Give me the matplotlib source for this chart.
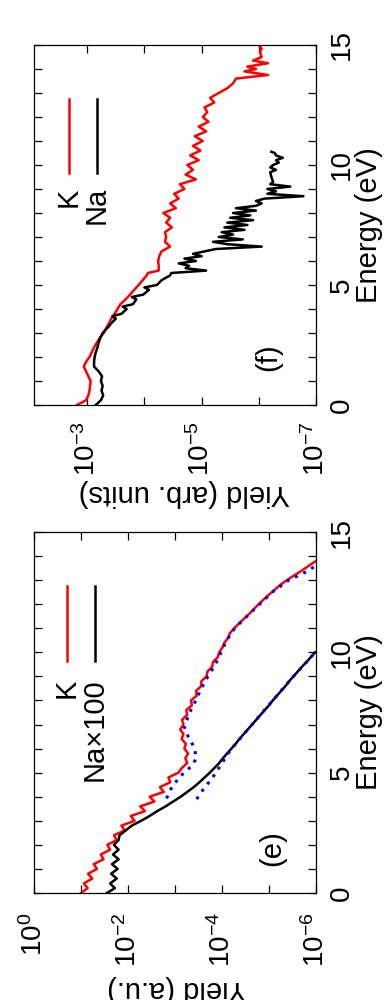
import numpy as np
import matplotlib
matplotlib.use('Agg')
import matplotlib.pyplot as plt
from matplotlib.ticker import FixedLocator, MultipleLocator, NullLocator

plt.rcParams['font.family'] = ['Liberation Sans', 'DejaVu Sans']
plt.rcParams['mathtext.fontset'] = 'custom'
plt.rcParams['mathtext.rm'] = 'Liberation Sans'
plt.rcParams['mathtext.it'] = 'Liberation Sans:italic'
plt.rcParams['mathtext.default'] = 'regular'

# ---------------- data: panel (f) ----------------
f_K_energy = [0.0, 0.2, 0.4, 0.6, 0.8, 1.0, 1.2, 1.4, 1.6, 1.8, 2.0, 2.2, 2.4, 2.6, 2.8,
              3.0, 3.2, 3.4, 3.6, 3.8, 4.0, 4.2, 4.4, 4.6, 4.8, 5.0, 5.2, 5.4, 5.5, 5.6,
              5.8, 6.0, 6.2, 6.4, 6.6, 6.8, 7.0, 7.2, 7.4, 7.6, 7.8, 8.0, 8.2, 8.4, 8.6,
              8.8, 9.0, 9.2, 9.4, 9.6, 9.8, 10.0, 10.2, 10.4, 10.6, 10.8, 11.0, 11.2, 11.4,
              11.6, 11.8, 12.0, 12.2, 12.4, 12.6, 12.8, 13.0, 13.2, 13.4, 13.6, 13.75, 13.9,
              14.0, 14.1, 14.24, 14.35, 14.5, 14.7, 14.85, 15.0]
f_K_log10 = [-2.82, -2.98, -3.02, -3.04, -3.05, -3.06, -3.02, -2.98, -2.94, -2.98, -3.04,
             -3.08, -3.12, -3.17, -3.22, -3.29, -3.33, -3.38, -3.42, -3.48, -3.53, -3.58,
             -3.67, -3.75, -3.82, -3.90, -3.97, -4.04, -4.06, -4.25, -4.25, -4.24, -4.26,
             -4.30, -4.45, -4.36, -4.38, -4.36, -4.48, -4.38, -4.45, -4.33, -4.55, -4.45,
             -4.60, -4.52, -4.70, -4.62, -4.90, -4.72, -4.85, -4.75, -4.95, -4.80, -4.98,
             -4.85, -5.02, -4.88, -5.08, -4.95, -5.12, -5.02, -5.10, -5.05, -5.22, -5.15,
             -5.30, -5.45, -5.55, -5.60, -6.16, -5.75, -5.95, -5.80, -6.16, -5.90, -6.05,
             -6.02, -6.05, -6.00]

f_Na_energy = [0.0, 0.2, 0.4, 0.6, 0.8, 1.0, 1.2, 1.4, 1.6, 1.8, 2.0, 2.2, 2.4, 2.6, 2.8,
               3.0, 3.2, 3.4, 3.6, 3.7, 3.8, 4.0, 4.1, 4.2, 4.4, 4.5, 4.6, 4.8, 4.9, 5.0,
               5.2, 5.4, 5.5, 5.6, 5.7, 5.8, 5.9, 6.0, 6.1, 6.2, 6.3, 6.4, 6.5, 6.6, 6.7,
               6.8, 6.9, 7.0, 7.1, 7.2, 7.3, 7.4, 7.5, 7.6, 7.7, 7.8, 7.9, 8.0, 8.1, 8.2,
               8.3, 8.4, 8.5, 8.6, 8.7, 8.8, 8.9, 9.0, 9.1, 9.2, 9.3, 9.5, 9.7, 9.8, 9.9,
               10.0, 10.1, 10.2, 10.3, 10.4, 10.5, 10.55]
f_Na_log10 = [-3.15, -3.24, -3.28, -3.25, -3.27, -3.24, -3.26, -3.20, -3.12, -3.12, -3.13,
              -3.15, -3.18, -3.20, -3.23, -3.27, -3.35, -3.42, -3.50, -3.44, -3.60, -3.69,
              -3.62, -3.80, -3.86, -3.78, -3.98, -4.08, -4.00, -4.22, -4.30, -4.45, -4.47,
              -5.08, -4.72, -4.78, -4.60, -4.90, -4.70, -5.00, -4.85, -5.05, -5.25, -6.05,
              -5.45, -5.20, -5.72, -5.30, -5.55, -5.35, -5.75, -5.40, -5.80, -5.45, -5.90,
              -5.50, -5.85, -5.55, -5.95, -5.60, -5.95, -6.05, -5.95, -6.10, -6.78, -6.15,
              -6.30, -6.15, -6.55, -6.20, -6.25, -6.22, -6.20, -6.30, -6.20, -6.25, -6.35,
              -6.30, -6.42, -6.30, -6.28, -6.22]

# ---------------- data: panel (e) ----------------
e_K_energy = [0.0, 0.2, 0.4, 0.6, 0.8, 1.0, 1.2, 1.4, 1.6, 1.8, 2.0, 2.2, 2.4, 2.6, 2.8,
              3.0, 3.2, 3.4, 3.6, 3.8, 4.0, 4.2, 4.4, 4.6, 4.8, 5.0, 5.2, 5.4, 5.6, 5.8,
              6.0, 6.2, 6.4, 6.6, 6.8, 7.0, 7.2, 7.4, 7.6, 7.8, 8.0, 8.2, 8.4, 8.6, 8.8,
              9.0, 9.2, 9.4, 9.6, 9.8, 10.0, 10.2, 10.4, 10.6, 10.8, 11.0, 11.2, 11.4, 11.6,
              11.8, 12.0, 12.2, 12.4, 12.6, 12.8, 13.0, 13.2, 13.4, 13.6, 13.8]
e_K_log10 = [-1.00, -1.14, -1.06, -1.24, -1.15, -1.34, -1.27, -1.48, -1.42, -1.62, -1.56,
             -1.76, -1.70, -1.93, -1.86, -2.14, -2.06, -2.36, -2.26, -2.56, -2.46, -2.76,
             -2.68, -2.90, -2.86, -3.07, -3.15, -3.26, -3.22, -3.28, -3.20, -3.23, -3.14,
             -3.18, -3.11, -3.18, -3.15, -3.26, -3.24, -3.36, -3.34, -3.46, -3.45, -3.56,
             -3.56, -3.67, -3.69, -3.79, -3.81, -3.91, -3.94, -4.01, -4.05, -4.13, -4.17,
             -4.26, -4.36, -4.47, -4.58, -4.68, -4.78, -4.89, -5.00, -5.12, -5.24, -5.38,
             -5.54, -5.70, -5.85, -6.00]

e_Na_energy = [0.0, 0.2, 0.4, 0.6, 0.8, 1.0, 1.2, 1.4, 1.6, 1.8, 2.0, 2.2, 2.4, 2.6, 2.8,
               3.0, 3.2, 3.4, 3.6, 3.8, 4.0, 4.2, 4.4, 4.6, 4.8, 5.0, 5.2, 5.4, 5.6, 5.8,
               6.0, 6.2, 6.4, 6.6, 6.8, 7.0, 7.2, 7.4, 7.6, 7.8, 8.0, 8.2, 8.4, 8.6, 8.8,
               9.0, 9.2, 9.4, 9.6, 9.8, 10.0]
e_Na_log10 = [-1.55, -1.72, -1.62, -1.76, -1.64, -1.78, -1.66, -1.80, -1.68, -1.80, -1.70,
              -1.80, -1.82, -1.95, -2.08, -2.28, -2.46, -2.62, -2.80, -2.96, -3.12, -3.26,
              -3.40, -3.52, -3.63, -3.74, -3.84, -3.94, -4.02, -4.11, -4.20, -4.29, -4.37,
              -4.46, -4.55, -4.64, -4.73, -4.82, -4.91, -5.00, -5.08, -5.17, -5.26, -5.35,
              -5.43, -5.52, -5.61, -5.70, -5.80, -5.89, -5.98]

e_Kfit_energy = [3.93, 4.35, 4.83, 5.25, 5.6, 6.08, 6.5, 6.9, 7.46, 8.0, 8.5, 9.0, 9.5,
                 10.0, 10.5, 11.0, 11.5, 12.0, 12.5, 13.0, 13.4, 13.55]
e_Kfit_log10 = [-2.82, -2.92, -3.10, -3.34, -3.46, -3.40, -3.28, -3.20, -3.30, -3.44,
                -3.56, -3.70, -3.86, -3.98, -4.10, -4.27, -4.53, -4.80, -5.07, -5.42,
                -5.85, -5.95]

e_Nafit_energy = [3.9, 4.3, 4.8, 5.3, 5.8, 6.2, 7.0, 8.0, 9.0, 9.9]
e_Nafit_log10 = [-3.46, -3.60, -3.80, -3.97, -4.13, -4.29, -4.64, -5.08, -5.52, -5.94]

FS = 21
TFS = 20
RED = '#ff0000'
BLUE = '#0000ff'

fig = plt.figure(figsize=(3.86, 10.0), dpi=100)
axf = fig.add_axes([34 / 386, 1 - 405 / 1000, 282 / 386, 360 / 1000])
axe = fig.add_axes([34 / 386, 1 - 893 / 1000, 282 / 386, 361 / 1000])


def style(ax, xlim, dec_ticks, dec_labels, xpad):
    ax.set_xscale('log')
    ax.set_xlim(*xlim)
    ax.set_ylim(0, 15)
    ax.xaxis.set_major_locator(FixedLocator([10.0 ** d for d in dec_ticks]))
    ax.xaxis.set_minor_locator(NullLocator())
    ax.set_xticklabels([r'$10^{%d}$' % d if d in dec_labels else '' for d in dec_ticks])
    ax.yaxis.set_major_locator(FixedLocator([0, 5, 10, 15]))
    ax.yaxis.set_minor_locator(MultipleLocator(1))
    ax.tick_params(axis='both', which='both', direction='in', length=6, width=0.9,
                   top=True, bottom=True, left=True, right=True)
    ax.tick_params(axis='y', which='major', labelleft=False, labelright=True,
                   labelsize=TFS, pad=9)
    ax.tick_params(axis='x', which='major', labelsize=TFS, pad=xpad)
    for t in ax.xaxis.get_major_ticks():
        t.label1.set_rotation(90)
        t.label1.set_ha('center')
        t.label1.set_va('top')
    for t in ax.yaxis.get_major_ticks():
        t.label2.set_rotation(90)
        t.label2.set_ha('left')
        t.label2.set_va('center')
    for s in ax.spines.values():
        s.set_linewidth(0.9)
    ax.yaxis.set_label_position('right')
    ax.set_ylabel('Energy (eV)', fontsize=FS, rotation=90)
    ax.yaxis.set_label_coords(1.14, 0.5)


style(axf, (10 ** -2.07, 1e-7), [-7, -6, -5, -4, -3], [-7, -5, -3], 12)
style(axe, (1.0, 1e-6), [-6, -5, -4, -3, -2, -1, 0], [-6, -4, -2, 0], 14)

axf.set_xlabel('Yield (arb. units)', fontsize=FS, rotation=180)
axf.xaxis.set_label_coords(0.535, -0.205)
axe.set_xlabel('Yield (a.u.)', fontsize=FS, rotation=180)
axe.xaxis.set_label_coords(0.507, -0.228)

# curves
axf.plot(10.0 ** np.array(f_K_log10), f_K_energy, color=RED, lw=1.8)
axf.plot(10.0 ** np.array(f_Na_log10), f_Na_energy, color='black', lw=1.8)

axe.plot(10.0 ** np.array(e_K_log10), e_K_energy, color=RED, lw=1.8)
axe.plot(10.0 ** np.array(e_Na_log10), e_Na_energy, color='black', lw=1.8)
axe.plot(10.0 ** np.array(e_Kfit_log10), e_Kfit_energy, color=BLUE, lw=2.2,
         linestyle=(0, (1, 2)))
axe.plot(10.0 ** np.array(e_Nafit_log10), e_Nafit_energy, color=BLUE, lw=2.2,
         linestyle=(0, (1, 2)))

# panel labels
axf.text(0.83, 0.133, '(f)', rotation=90, ha='center', va='center',
         transform=axf.transAxes, fontsize=FS)
axe.text(0.844, 0.125, '(e)', rotation=90, ha='center', va='center',
         transform=axe.transAxes, fontsize=FS)

# legends (rotated key)
def key(ax, xk, y0, y1, ytext, color, label):
    ax.plot([xk, xk], [y0, y1], color=color, lw=1.8, transform=ax.transAxes,
            clip_on=False)
    ax.text(xk, ytext, label, rotation=90, ha='center', va='top',
            transform=ax.transAxes, fontsize=FS)

key(axf, 0.124, 0.644, 0.85, 0.605, RED, 'K')
key(axf, 0.223, 0.644, 0.85, 0.605, 'black', 'Na')
key(axe, 0.117, 0.643, 0.85, 0.595, RED, 'K')
key(axe, 0.216, 0.643, 0.85, 0.595, 'black', 'Na×100')

fig.savefig('out.png', dpi=100)
